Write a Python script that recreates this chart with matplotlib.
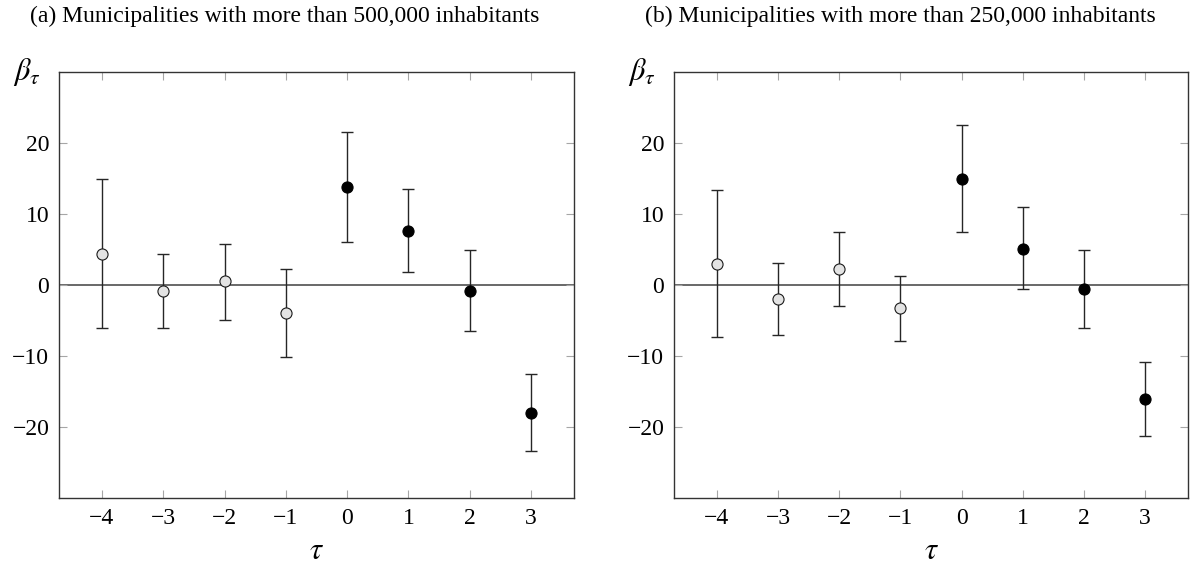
import numpy as np
import matplotlib
matplotlib.use("Agg")
import matplotlib.pyplot as plt

plt.rcParams['font.family'] = 'serif'
plt.rcParams['font.serif'] = ['Liberation Serif', 'DejaVu Serif']
plt.rcParams['mathtext.fontset'] = 'stix'

tau = [-4, -3, -2, -1, 0, 1, 2, 3]

# panel (a): > 500,000 inhabitants
beta_a = [4.4, -0.9, 0.5, -4.0, 13.8, 7.6, -0.8, -18.0]
upper_a = [14.9, 4.3, 5.8, 2.3, 21.5, 13.5, 4.9, -12.5]
lower_a = [-6.0, -6.1, -4.9, -10.2, 6.1, 1.9, -6.5, -23.4]

# panel (b): > 250,000 inhabitants
beta_b = [3.0, -2.0, 2.3, -3.3, 15.0, 5.1, -0.5, -16.1]
upper_b = [13.4, 3.1, 7.4, 1.3, 22.5, 11.0, 5.0, -10.9]
lower_b = [-7.3, -7.0, -2.9, -7.9, 7.5, -0.6, -6.0, -21.3]

titles = ["(a) Municipalities with more than 500,000 inhabitants",
          "(b) Municipalities with more than 250,000 inhabitants"]

fig = plt.figure(figsize=(11.94, 5.64), dpi=100)
W, H = 1194, 564
ax_a = fig.add_axes([59 / W, 66 / H, 515 / W, 426 / H])
ax_b = fig.add_axes([674 / W, 66 / H, 514 / W, 426 / H])

panels = [(ax_a, beta_a, upper_a, lower_a), (ax_b, beta_b, upper_b, lower_b)]
for ax, beta, up, lo in panels:
    t = np.array(tau)
    b = np.array(beta)
    yerr = [b - np.array(lo), np.array(up) - b]
    ax.axhline(0, color='0.25', lw=1.1, zorder=1)
    ax.errorbar(t, b, yerr=yerr, fmt='none', ecolor='0.15', elinewidth=1.0,
                capsize=4.3, capthick=1.0, zorder=2)
    pre = t < 0
    ax.plot(t[pre], b[pre], 'o', ms=8, mfc='#e3e3e3', mec='0.1', mew=0.8, zorder=3)
    ax.plot(t[~pre], b[~pre], 'o', ms=8, mfc='black', mec='black', mew=0.8, zorder=3)
    ax.set_xlim(-4.7, 3.7)
    ax.set_ylim(-30, 30)
    ax.set_xticks(tau)
    ax.set_yticks([-20, -10, 0, 10, 20])
    ax.tick_params(direction='in', top=True, right=True, length=6, width=0.8,
                   color='0.65', labelsize=17, pad=7)
    for s in ax.spines.values():
        s.set_color('0.2')
        s.set_linewidth(1.0)
    ax.text(-0.062, 1.0, r'$\beta_\tau$', transform=ax.transAxes,
            ha='center', va='center', fontsize=22)
    ax.text(0.5, -0.125, r'$\tau$', transform=ax.transAxes,
            ha='center', va='center', fontsize=22)

fig.text(285 / W, 1 - 16 / H, titles[0], ha='center', va='center', fontsize=17)
fig.text(900 / W, 1 - 16 / H, titles[1], ha='center', va='center', fontsize=17)

fig.savefig('out.png', dpi=100)
